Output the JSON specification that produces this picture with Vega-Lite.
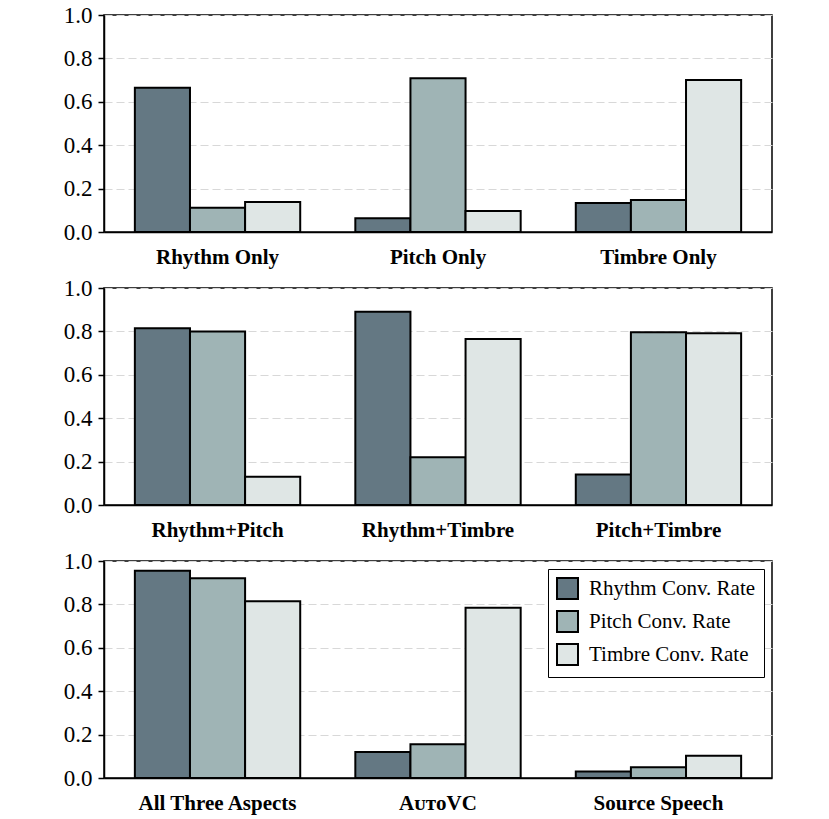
{
  "$schema": "https://vega.github.io/schema/vega-lite/v6.json",
  "padding": {"left": 62, "top": 3, "right": 5, "bottom": 5},
  "background": "white",
  "data": {
    "values": [
      {"panel": 1, "group": "Rhythm Only", "metric": "Rhythm Conv. Rate", "value": 0.665},
      {"panel": 1, "group": "Rhythm Only", "metric": "Pitch Conv. Rate", "value": 0.112},
      {"panel": 1, "group": "Rhythm Only", "metric": "Timbre Conv. Rate", "value": 0.138},
      {"panel": 1, "group": "Pitch Only", "metric": "Rhythm Conv. Rate", "value": 0.063},
      {"panel": 1, "group": "Pitch Only", "metric": "Pitch Conv. Rate", "value": 0.708},
      {"panel": 1, "group": "Pitch Only", "metric": "Timbre Conv. Rate", "value": 0.097},
      {"panel": 1, "group": "Timbre Only", "metric": "Rhythm Conv. Rate", "value": 0.134},
      {"panel": 1, "group": "Timbre Only", "metric": "Pitch Conv. Rate", "value": 0.147},
      {"panel": 1, "group": "Timbre Only", "metric": "Timbre Conv. Rate", "value": 0.7},
      {"panel": 2, "group": "Rhythm+Pitch", "metric": "Rhythm Conv. Rate", "value": 0.814},
      {"panel": 2, "group": "Rhythm+Pitch", "metric": "Pitch Conv. Rate", "value": 0.8},
      {"panel": 2, "group": "Rhythm+Pitch", "metric": "Timbre Conv. Rate", "value": 0.13},
      {"panel": 2, "group": "Rhythm+Timbre", "metric": "Rhythm Conv. Rate", "value": 0.891},
      {"panel": 2, "group": "Rhythm+Timbre", "metric": "Pitch Conv. Rate", "value": 0.22},
      {"panel": 2, "group": "Rhythm+Timbre", "metric": "Timbre Conv. Rate", "value": 0.765},
      {"panel": 2, "group": "Pitch+Timbre", "metric": "Rhythm Conv. Rate", "value": 0.14},
      {"panel": 2, "group": "Pitch+Timbre", "metric": "Pitch Conv. Rate", "value": 0.796},
      {"panel": 2, "group": "Pitch+Timbre", "metric": "Timbre Conv. Rate", "value": 0.792},
      {"panel": 3, "group": "All Three Aspects", "metric": "Rhythm Conv. Rate", "value": 0.955},
      {"panel": 3, "group": "All Three Aspects", "metric": "Pitch Conv. Rate", "value": 0.92},
      {"panel": 3, "group": "All Three Aspects", "metric": "Timbre Conv. Rate", "value": 0.815},
      {"panel": 3, "group": "AᴜᴛᴏVC", "metric": "Rhythm Conv. Rate", "value": 0.12},
      {"panel": 3, "group": "AᴜᴛᴏVC", "metric": "Pitch Conv. Rate", "value": 0.155},
      {"panel": 3, "group": "AᴜᴛᴏVC", "metric": "Timbre Conv. Rate", "value": 0.785},
      {"panel": 3, "group": "Source Speech", "metric": "Rhythm Conv. Rate", "value": 0.03},
      {"panel": 3, "group": "Source Speech", "metric": "Pitch Conv. Rate", "value": 0.05},
      {"panel": 3, "group": "Source Speech", "metric": "Timbre Conv. Rate", "value": 0.103}
    ]
  },
  "vconcat": [
    {
      "width": 668,
      "height": 217,
      "transform": [{"filter": "datum.panel == 1"}],
      "mark": {"type": "bar", "stroke": "black", "strokeWidth": 2},
      "encoding": {
        "x": {"field": "group", "type": "nominal", "sort": null,
              "scale": {"paddingInner": 0.25, "paddingOuter": 0.14}},
        "xOffset": {"field": "metric", "type": "nominal",
                    "sort": ["Rhythm Conv. Rate", "Pitch Conv. Rate", "Timbre Conv. Rate"],
                    "scale": {"paddingInner": 0, "paddingOuter": 0}},
        "y": {"field": "value", "type": "quantitative", "scale": {"domain": [0, 1]}},
        "color": {"field": "metric", "type": "nominal", "legend": null}
      }
    },
    {
      "width": 668,
      "height": 217,
      "transform": [{"filter": "datum.panel == 2"}],
      "mark": {"type": "bar", "stroke": "black", "strokeWidth": 2},
      "encoding": {
        "x": {"field": "group", "type": "nominal", "sort": null,
              "scale": {"paddingInner": 0.25, "paddingOuter": 0.14}},
        "xOffset": {"field": "metric", "type": "nominal",
                    "sort": ["Rhythm Conv. Rate", "Pitch Conv. Rate", "Timbre Conv. Rate"],
                    "scale": {"paddingInner": 0, "paddingOuter": 0}},
        "y": {"field": "value", "type": "quantitative", "scale": {"domain": [0, 1]}},
        "color": {"field": "metric", "type": "nominal", "legend": null}
      }
    },
    {
      "width": 668,
      "height": 217,
      "transform": [{"filter": "datum.panel == 3"}],
      "mark": {"type": "bar", "stroke": "black", "strokeWidth": 2},
      "encoding": {
        "x": {"field": "group", "type": "nominal", "sort": null,
              "scale": {"paddingInner": 0.25, "paddingOuter": 0.14}},
        "xOffset": {"field": "metric", "type": "nominal",
                    "sort": ["Rhythm Conv. Rate", "Pitch Conv. Rate", "Timbre Conv. Rate"],
                    "scale": {"paddingInner": 0, "paddingOuter": 0}},
        "y": {"field": "value", "type": "quantitative", "scale": {"domain": [0, 1]}},
        "color": {
          "field": "metric", "type": "nominal",
          "sort": ["Rhythm Conv. Rate", "Pitch Conv. Rate", "Timbre Conv. Rate"],
          "scale": {
            "domain": ["Rhythm Conv. Rate", "Pitch Conv. Rate", "Timbre Conv. Rate"],
            "range": ["#647883", "#9fb4b5", "#dfe6e5"]
          },
          "legend": {
            "orient": "top-right",
            "offset": 8,
            "title": null,
            "symbolType": "square",
            "symbolSize": 441,
            "symbolStrokeColor": "black",
            "symbolStrokeWidth": 2,
            "symbolOpacity": 1,
            "labelFontSize": 21,
            "labelLimit": 400,
            "labelOffset": 10,
            "rowPadding": 4,
            "padding": 8,
            "fillColor": "white",
            "strokeColor": "black"
          }
        }
      }
    }
  ],
  "spacing": 56,
  "bounds": "flush",
  "resolve": {"legend": {"color": "independent"}},
  "config": {
    "font": "Liberation Serif",
    "view": {"stroke": "black", "strokeWidth": 1.5},
    "axisX": {
      "title": null,
      "labelAngle": 0,
      "labelFontSize": 21,
      "labelFontWeight": "bold",
      "labelColor": "black",
      "labelPadding": 14,
      "ticks": false,
      "domainColor": "black",
      "domainWidth": 1.5,
      "grid": false
    },
    "axisY": {
      "title": null,
      "values": [0, 0.2, 0.4, 0.6, 0.8, 1.0],
      "format": ".1f",
      "labelFontSize": 23,
      "labelColor": "black",
      "labelPadding": 6,
      "tickColor": "black",
      "tickSize": 6,
      "tickWidth": 1.5,
      "domainColor": "black",
      "domainWidth": 1.5,
      "grid": true,
      "gridColor": "#d8d8d8",
      "gridDash": [8, 4],
      "gridWidth": 1.2
    },
    "legend": {
      "labelFont": "Liberation Serif",
      "labelColor": "black"
    }
  }
}
